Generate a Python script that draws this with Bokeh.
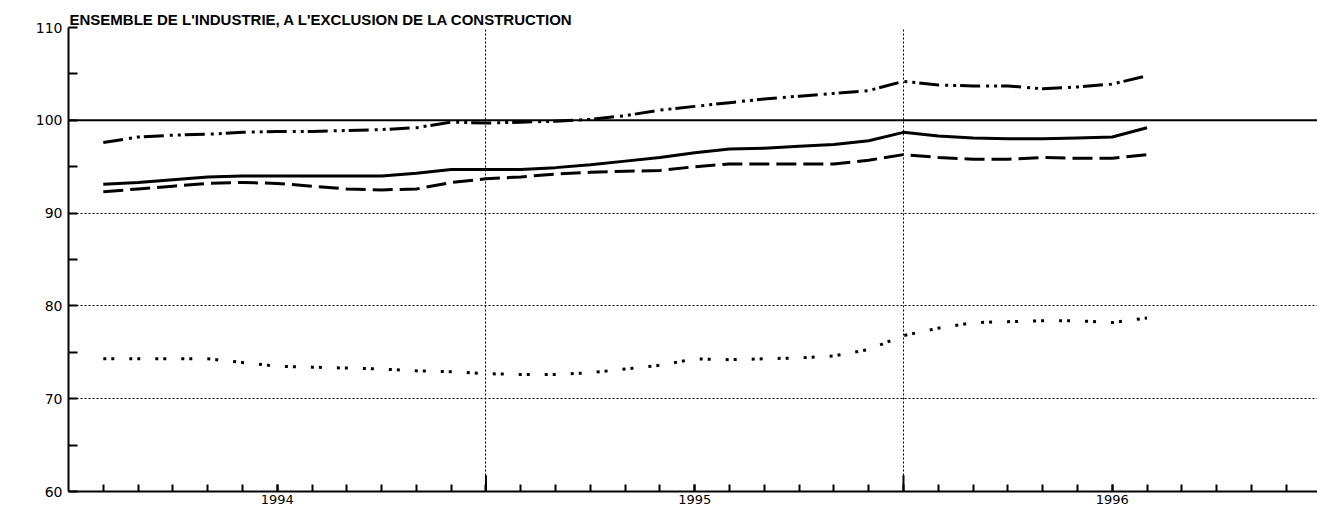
from bokeh.plotting import figure
from bokeh.models import FixedTicker, Span, Range1d
from bokeh.embed import file_html
from bokeh.resources import INLINE

# ---- data (monthly) ----
months = ["1994-02", "1994-03", "1994-04", "1994-05", "1994-06", "1994-07",
          "1994-08", "1994-09", "1994-10", "1994-11", "1994-12",
          "1995-01", "1995-02", "1995-03", "1995-04", "1995-05", "1995-06",
          "1995-07", "1995-08", "1995-09", "1995-10", "1995-11", "1995-12",
          "1996-01", "1996-02", "1996-03", "1996-04", "1996-05", "1996-06",
          "1996-07", "1996-08"]

solid = [93.1, 93.3, 93.6, 93.9, 94.0, 94.0, 94.0, 94.0, 94.0, 94.3, 94.7,
         94.7, 94.7, 94.9, 95.2, 95.6, 96.0, 96.5, 96.9, 97.0, 97.2, 97.4, 97.8,
         98.7, 98.3, 98.1, 98.0, 98.0, 98.1, 98.2, 99.2]

dashed = [92.3, 92.6, 92.9, 93.2, 93.3, 93.2, 92.9, 92.6, 92.5, 92.6, 93.3,
          93.7, 93.9, 94.2, 94.4, 94.5, 94.6, 95.0, 95.3, 95.3, 95.3, 95.3, 95.7,
          96.3, 96.0, 95.8, 95.8, 96.0, 95.9, 95.9, 96.3]

dashdot = [97.6, 98.2, 98.4, 98.5, 98.7, 98.8, 98.8, 98.9, 99.0, 99.2, 99.8,
           99.7, 99.8, 99.9, 100.1, 100.5, 101.1, 101.5, 101.9, 102.3, 102.6, 102.9, 103.2,
           104.2, 103.8, 103.7, 103.7, 103.4, 103.6, 103.9, 104.8]

dotted = [74.3, 74.3, 74.3, 74.3, 73.9, 73.5, 73.4, 73.3, 73.2, 73.0, 72.9,
          72.7, 72.6, 72.6, 72.8, 73.2, 73.6, 74.3, 74.2, 74.3, 74.4, 74.6, 75.3,
          76.8, 77.6, 78.2, 78.3, 78.4, 78.4, 78.2, 78.7]

year_labels = {6: "1994", 18: "1995", 30: "1996"}
year_bounds = [12, 24]
y_ticks = [60, 70, 80, 90, 100, 110]
y_minor = [65, 75, 85, 95, 105]
title = "ENSEMBLE DE L'INDUSTRIE, A L'EXCLUSION DE LA CONSTRUCTION"


def month_index(s):
    y, m = s.split("-")
    return (int(y) - 1994) * 12 + int(m) - 1


x = [month_index(s) for s in months]

p = figure(width=1317, height=508, x_range=Range1d(0, 35.9), y_range=Range1d(60, 110),
           output_backend="svg", toolbar_location=None, title=title,
           min_border_left=68, min_border_right=0, min_border_top=27, min_border_bottom=17)
p.outline_line_color = None
p.background_fill_color = "white"
p.border_fill_color = "white"

p.title.align = "left"
p.title.offset = 1
p.title.standoff = -1
p.title.text_font = "Liberation Sans"
p.title.text_font_style = "bold"
p.title.text_font_size = "15px"
p.title.text_color = "black"
p.title.vertical_align = "bottom"

# x axis
xa = p.xaxis[0]
xa.ticker = FixedTicker(ticks=sorted(year_labels.keys()), minor_ticks=list(range(1, 36)))
xa.major_label_overrides = year_labels
xa.major_tick_in = 7
xa.major_tick_out = 0
xa.minor_tick_in = 7
xa.minor_tick_out = 0
xa.axis_line_width = 2
xa.major_tick_line_width = 2
xa.minor_tick_line_width = 2
xa.major_label_text_font = "DejaVu Sans"
xa.major_label_text_font_size = "13px"
xa.major_label_standoff = 3
xa.major_label_text_color = "black"

# y axis
ya = p.yaxis[0]
ya.ticker = FixedTicker(ticks=y_ticks, minor_ticks=y_minor)
ya.major_tick_in = 9
ya.major_tick_out = 0
ya.minor_tick_in = 9
ya.minor_tick_out = 0
ya.axis_line_width = 2
ya.major_tick_line_width = 2
ya.minor_tick_line_width = 2
ya.major_label_text_font = "DejaVu Sans"
ya.major_label_text_font_size = "14px"
ya.major_label_standoff = 6
ya.major_label_text_color = "black"

# grids
p.xgrid.ticker = FixedTicker(ticks=year_bounds)
p.xgrid.grid_line_color = "black"
p.xgrid.grid_line_dash = "2 2"
p.xgrid.grid_line_width = 1
p.ygrid.ticker = FixedTicker(ticks=[t for t in y_ticks if t not in (60, 100)])
p.ygrid.grid_line_color = "black"
p.ygrid.grid_line_dash = "2 2"
p.ygrid.grid_line_width = 1
p.add_layout(Span(location=100, dimension="width", line_color="black", line_width=2))

# long ticks at year boundaries
p.segment(x0=year_bounds, x1=year_bounds, y0=[60] * len(year_bounds),
          y1=[61.75] * len(year_bounds), line_color="black", line_width=2)

# series
p.line(x, solid, line_color="black", line_width=3, line_join="round")
p.line(x, dashed, line_color="black", line_width=3, line_dash="20 7", line_join="round")
p.line(x, dashdot, line_color="black", line_width=3, line_dash="20 6 3 5 3 4", line_join="round")
p.line(x, dotted, line_color="black", line_width=3, line_dash="3 5 3 15")

open("out.html", "w").write(file_html(p, INLINE))
